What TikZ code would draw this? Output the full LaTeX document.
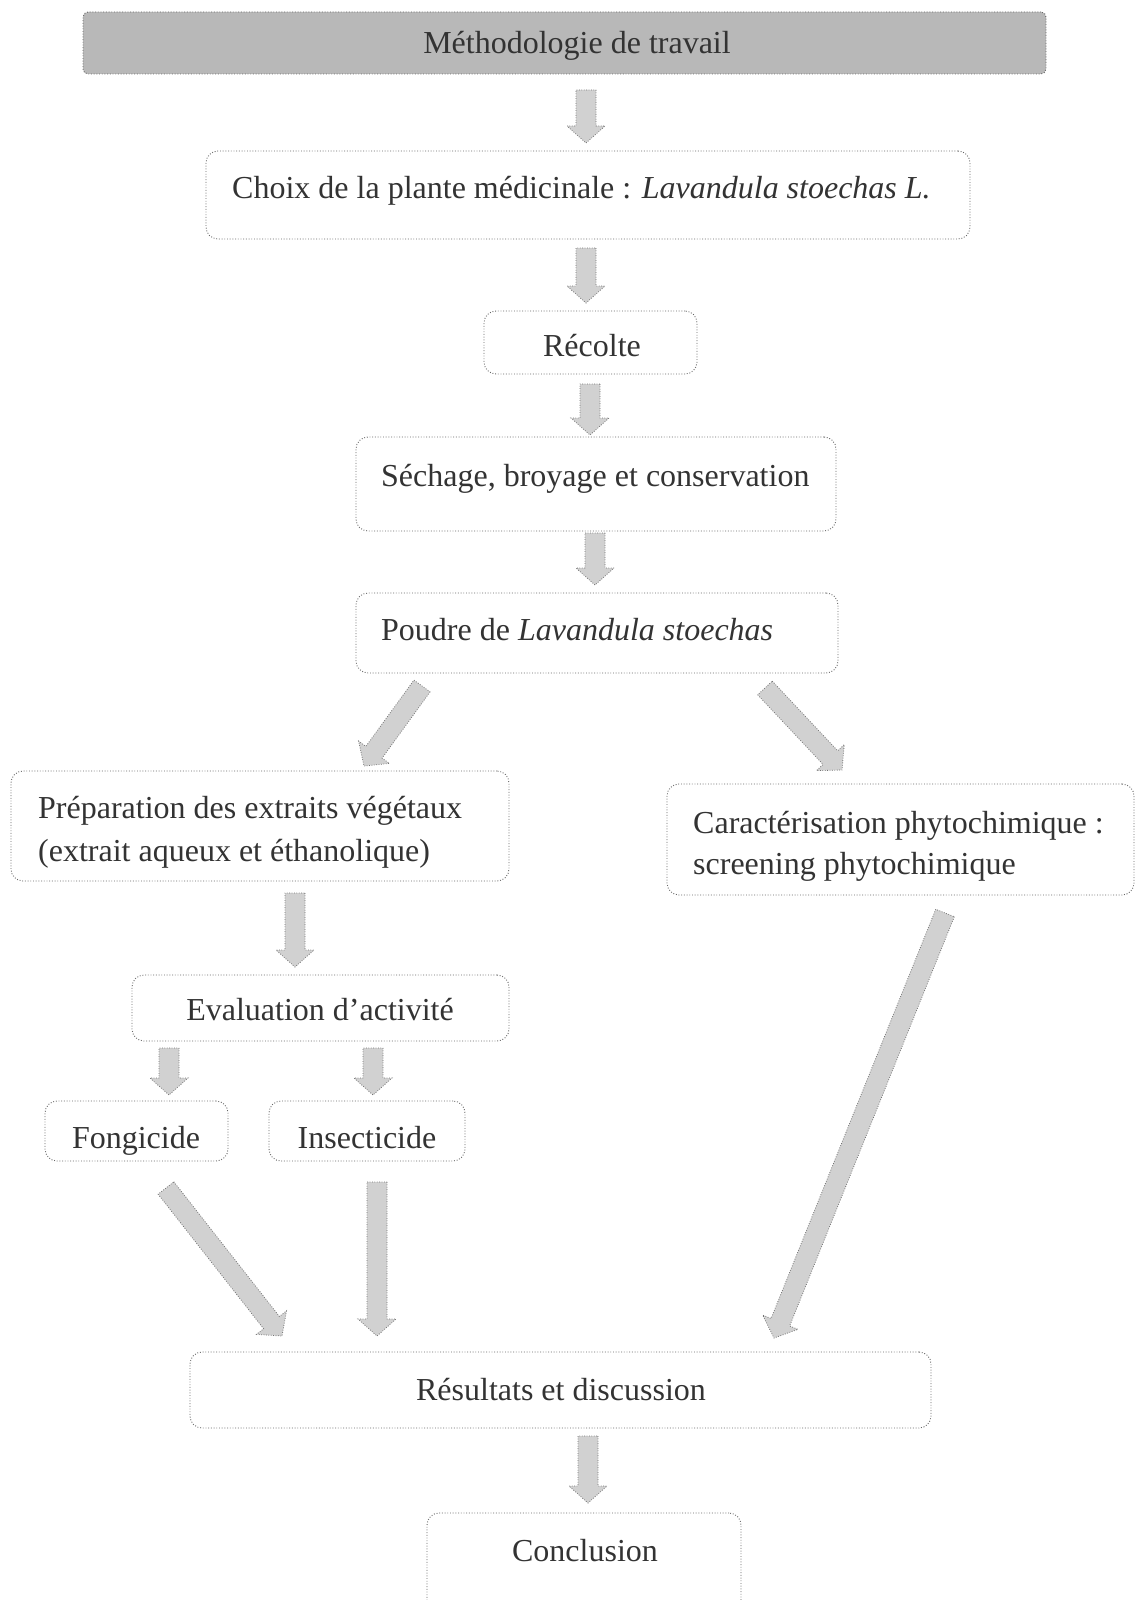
\documentclass[tikz,border=0pt]{standalone}
\usepackage{fontspec}
\setmainfont{Liberation Serif}
\usetikzlibrary{calc}
\tikzset{
  boxst/.style={draw=black!60, line width=0.9pt, dash pattern=on 0.9pt off 1.8pt, rounded corners=12pt, inner sep=0pt},
  bannerst/.style={boxst, rounded corners=5pt, fill=black!28},
  txt/.style={inner sep=0pt, text=black!80, font=\fontsize{32}{38}\selectfont},
  arrowst/.style={fill=black!18, draw=black!55, line width=0.8pt, dash pattern=on 0.8pt off 1.6pt, line join=miter},
}
\newcommand{\barrow}[2]{%
  \coordinate (hh) at ($(#2)!17pt!(#1)$);
  \filldraw[arrowst] ($(#1)!10pt!90:(#2)$) -- ($(hh)!10pt!90:(#2)$) -- ($(hh)!19pt!90:(#2)$) -- (#2) -- ($(hh)!19pt!-90:(#2)$) -- ($(hh)!10pt!-90:(#2)$) -- ($(#1)!10pt!-90:(#2)$) -- cycle;
}
\begin{document}
\begin{tikzpicture}[x=1pt,y=-1pt]
\useasboundingbox (0,0) rectangle (1135,1600);
\fill[white] (0,0) rectangle (1135,1600);

% boxes
\node[bannerst, minimum width=963pt, minimum height=62pt] (banner) at (564.5,43) {};
\node[boxst, minimum width=764pt, minimum height=88pt] (choix) at (588,195) {};
\node[boxst, minimum width=213pt, minimum height=63pt] (recolte) at (590.5,342.5) {};
\node[boxst, minimum width=480pt, minimum height=94pt] (sechage) at (596,484) {};
\node[boxst, minimum width=482pt, minimum height=80pt] (poudre) at (597,633) {};
\node[boxst, minimum width=498pt, minimum height=110pt] (prep) at (260,826) {};
\node[boxst, minimum width=467pt, minimum height=111pt] (carac) at (900.5,839.5) {};
\node[boxst, minimum width=377pt, minimum height=66pt] (eval) at (320.5,1008) {};
\node[boxst, minimum width=183pt, minimum height=60pt] (fong) at (136.5,1131) {};
\node[boxst, minimum width=196pt, minimum height=60pt] (insect) at (367,1131) {};
\node[boxst, minimum width=741pt, minimum height=76pt] (result) at (560.5,1390) {};
\node[boxst, minimum width=314pt, minimum height=112pt] (concl) at (584,1569) {};

% texts
\node[txt, anchor=base] (tbanner) at (577,54) {Méthodologie de travail};
\node[txt, anchor=base west] (tchoix) at (232,198) {Choix de la plante médicinale : \textit{Lavandula stoechas L.}};
\node[txt, anchor=base] (trecolte) at (592,356) {Récolte};
\node[txt, anchor=base west] (tsechage) at (381,486) {Séchage, broyage et conservation};
\node[txt, anchor=base west] (tpoudre) at (381,640) {Poudre de \textit{Lavandula stoechas}};
\node[txt, anchor=base west] (tprepa) at (38,818) {Préparation des extraits végétaux};
\node[txt, anchor=base west] (tprepb) at (38,861) {(extrait aqueux et éthanolique)};
\node[txt, anchor=base west] (tcaraca) at (693,833) {Caractérisation phytochimique :};
\node[txt, anchor=base west] (tcaracb) at (693,874) {screening phytochimique};
\node[txt, anchor=base] (teval) at (320,1020) {Evaluation d’activité};
\node[txt, anchor=base] (tfong) at (136,1148) {Fongicide};
\node[txt, anchor=base] (tinsect) at (367,1148) {Insecticide};
\node[txt, anchor=base] (tresult) at (561,1400) {Résultats et discussion};
\node[txt, anchor=base] (tconcl) at (585,1561) {Conclusion};

% arrow end points
\coordinate (banner-out) at (586,90);   \coordinate (choix-in) at (586,143);
\coordinate (choix-out) at (586,248);   \coordinate (recolte-in) at (586,303);
\coordinate (recolte-out) at (590,384); \coordinate (sechage-in) at (590,435);
\coordinate (sechage-out) at (595,533); \coordinate (poudre-in) at (595,585);
\coordinate (poudre-outl) at (422,686); \coordinate (prep-in) at (364,766);
\coordinate (poudre-outr) at (765,688); \coordinate (carac-in) at (842,770);
\coordinate (prep-out) at (295,893);    \coordinate (eval-in) at (295,967);
\coordinate (eval-outl) at (169,1048);  \coordinate (fong-in) at (169,1095);
\coordinate (eval-outr) at (373,1048);  \coordinate (insect-in) at (373,1095);
\coordinate (fong-out) at (166,1188);   \coordinate (result-in1) at (282,1336);
\coordinate (insect-out) at (377,1182); \coordinate (result-in2) at (377,1336);
\coordinate (carac-out) at (945,913);   \coordinate (result-in3) at (774,1338);
\coordinate (result-out) at (588,1436); \coordinate (concl-in) at (588,1503);

% connectors
\barrow{banner-out}{choix-in}
\barrow{choix-out}{recolte-in}
\barrow{recolte-out}{sechage-in}
\barrow{sechage-out}{poudre-in}
\barrow{poudre-outl}{prep-in}
\barrow{poudre-outr}{carac-in}
\barrow{prep-out}{eval-in}
\barrow{eval-outl}{fong-in}
\barrow{eval-outr}{insect-in}
\barrow{fong-out}{result-in1}
\barrow{insect-out}{result-in2}
\barrow{carac-out}{result-in3}
\barrow{result-out}{concl-in}
\end{tikzpicture}
\end{document}
